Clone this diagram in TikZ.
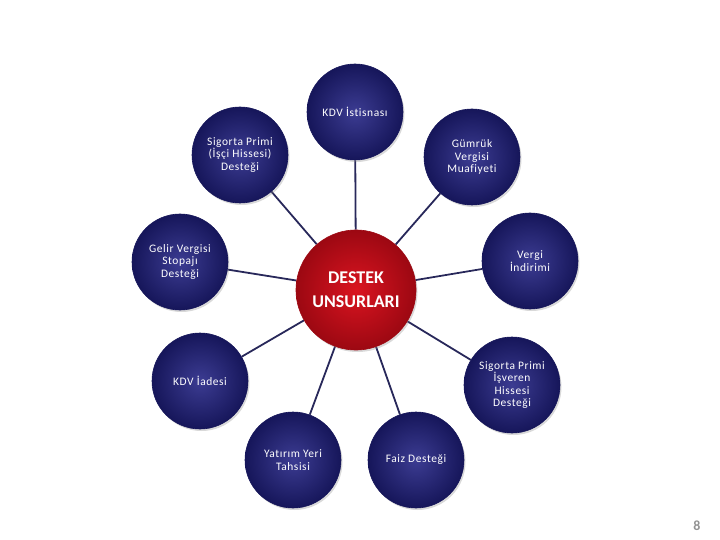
\documentclass[tikz,border=0pt]{standalone}
\usepackage{fontspec}
\setmainfont{Carlito}
\usetikzlibrary{shadows,backgrounds}

\definecolor{navy}{RGB}{38,38,134}
\definecolor{navydark}{RGB}{22,22,90}
\definecolor{navyline}{RGB}{40,40,90}
\definecolor{redcore}{RGB}{218,20,32}
\definecolor{reddark}{RGB}{156,8,18}

\begin{document}
\begin{tikzpicture}[x=1bp,y=-1bp,
    leaf/.style={circle,minimum size=96bp,inner sep=0pt,align=center,
      shading=radial,inner color=navy!90!white,outer color=navydark,
      draw=navydark,line width=0.6bp,text=white,
      drop shadow={opacity=0.3,shadow xshift=1.5bp,shadow yshift=-2bp},
      font=\fontsize{11.5}{12.5}\selectfont
        \addfontfeatures{LetterSpace=5,Ligatures=NoCommon}},
    hub/.style={leaf,minimum size=120bp,inner color=redcore,outer color=reddark,
      draw=reddark,font=\fontsize{18}{24}\selectfont\bfseries},
    spoke/.style={draw=navyline,line width=1.8bp}]

  \useasboundingbox (0,0) rectangle (720,540);

  \node[hub]  (merkez)  at (356,290) {DESTEK\\UNSURLARI};
  \node[leaf] (istisna) at (355,112) {KDV İstisnası};
  \node[leaf] (isci)    at (240,155) {Sigorta Primi\\(İşçi Hissesi)\\Desteği};
  \node[leaf] (gumruk)  at (472,157) {Gümrük\\Vergisi\\Muafiyeti};
  \node[leaf] (gelir)   at (180,262) {Gelir Vergisi\\Stopajı\\Desteği};
  \node[leaf] (indirim) at (530,261) {Vergi\\İndirimi};
  \node[leaf] (iade)    at (200,381) {KDV İadesi};
  \node[leaf] (isveren) at (512,385) {Sigorta Primi\\İşveren\\Hissesi\\Desteği};
  \node[leaf] (yatirim) at (293,460) {Yatırım Yeri\\Tahsisi};
  \node[leaf] (faiz)    at (416,460) {Faiz Desteği};

  \node[text=gray!85,font=\fontsize{14}{14}\selectfont\bfseries] (sayfa) at (697,526) {8};

  \begin{scope}[on background layer]
    \path[spoke] (merkez) edge (istisna)
                          edge (isci)
                          edge (gumruk)
                          edge (gelir)
                          edge (indirim)
                          edge (iade)
                          edge (isveren)
                          edge (yatirim)
                          edge (faiz);
  \end{scope}
\end{tikzpicture}
\end{document}
